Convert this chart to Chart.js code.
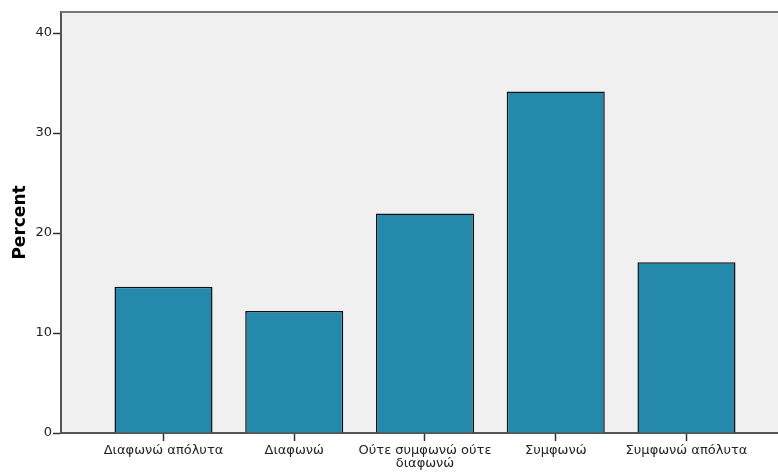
<!DOCTYPE html>
<html>
<head>
<meta charset="utf-8">
<script src="https://cdn.jsdelivr.net/npm/chart.js@4.4.1/dist/chart.umd.min.js"></script>
<style>
  html, body { margin: 0; padding: 0; background: #fff; }
  #wrap { width: 778px; height: 474px; position: relative; }
</style>
</head>
<body>
<div id="wrap"><canvas id="barChart"></canvas></div>
<script>
const categories = [
    "Διαφωνώ απόλυτα",
    "Διαφωνώ",
    ["Ούτε συμφωνώ ούτε", "διαφωνώ"],
    "Συμφωνώ",
    "Συμφωνώ απόλυτα"
];
const percents = [14.63, 12.20, 21.95, 34.15, 17.07];
const yTicks = [0, 10, 20, 30, 40];

// plot background and top frame line
const framePlugin = {
    id: "frame",
    beforeDraw(chart) {
        const { ctx, chartArea: a } = chart;
        ctx.save();
        ctx.fillStyle = "#f0f0f0";
        ctx.fillRect(a.left, a.top, a.right - a.left, a.bottom - a.top);
        ctx.restore();
    },
    afterDraw(chart) {
        const { ctx, chartArea: a } = chart;
        ctx.save();
        ctx.strokeStyle = "#777";
        ctx.lineWidth = 2;
        ctx.beginPath();
        ctx.moveTo(a.left, a.top);
        ctx.lineTo(a.right, a.top);
        ctx.stroke();
        ctx.restore();
    }
};

new Chart(document.getElementById("barChart"), {
    type: "bar",
    data: {
        datasets: [{
            label: "Percent",
            data: percents.map((v, i) => ({ x: i + 1, y: v })),
            backgroundColor: "#2589ab",
            borderColor: "#111",
            borderWidth: 1.5,
            categoryPercentage: 1,
            barPercentage: 0.75
        }]
    },
    options: {
        responsive: true,
        maintainAspectRatio: false,
        animation: false,
        layout: { padding: { top: 12, right: 0, left: 0, bottom: 0 } },
        plugins: {
            legend: { display: false },
            tooltip: { enabled: false }
        },
        scales: {
            x: {
                type: "linear",
                offset: false,
                bounds: "data",
                min: 0.216,
                max: 5.7,
                afterBuildTicks: scale => {
                    scale.ticks = categories.map((c, i) => ({ value: i + 1 }));
                },
                afterFit: scale => { scale.height = 41; },
                ticks: {
                    callback: (v) => categories[Math.round(v) - 1],
                    color: "#222",
                    font: { family: "DejaVu Sans", size: 13, lineHeight: 1.0 },
                    padding: 3,
                    maxRotation: 0,
                    autoSkip: false
                },
                grid: {
                    offset: false,
                    drawOnChartArea: false,
                    drawTicks: true,
                    tickLength: 8,
                    tickColor: "#333",
                    tickWidth: 1.5
                },
                border: { color: "#555", width: 2 }
            },
            y: {
                min: 0,
                max: 42.1,
                afterBuildTicks: scale => {
                    scale.ticks = yTicks.map(v => ({ value: v }));
                },
                afterFit: scale => { scale.width = 61; },
                ticks: {
                    color: "#222",
                    font: { family: "DejaVu Sans", size: 13 },
                    padding: 1
                },
                grid: {
                    drawOnChartArea: false,
                    drawTicks: true,
                    tickLength: 8,
                    tickColor: "#333",
                    tickWidth: 1.5
                },
                border: { color: "#555", width: 2 },
                title: {
                    display: true,
                    text: "Percent",
                    color: "#000",
                    font: { family: "DejaVu Sans", size: 17, weight: "bold" },
                    padding: { top: 10, bottom: 0 }
                }
            }
        }
    },
    plugins: [framePlugin]
});
</script>
</body>
</html>
